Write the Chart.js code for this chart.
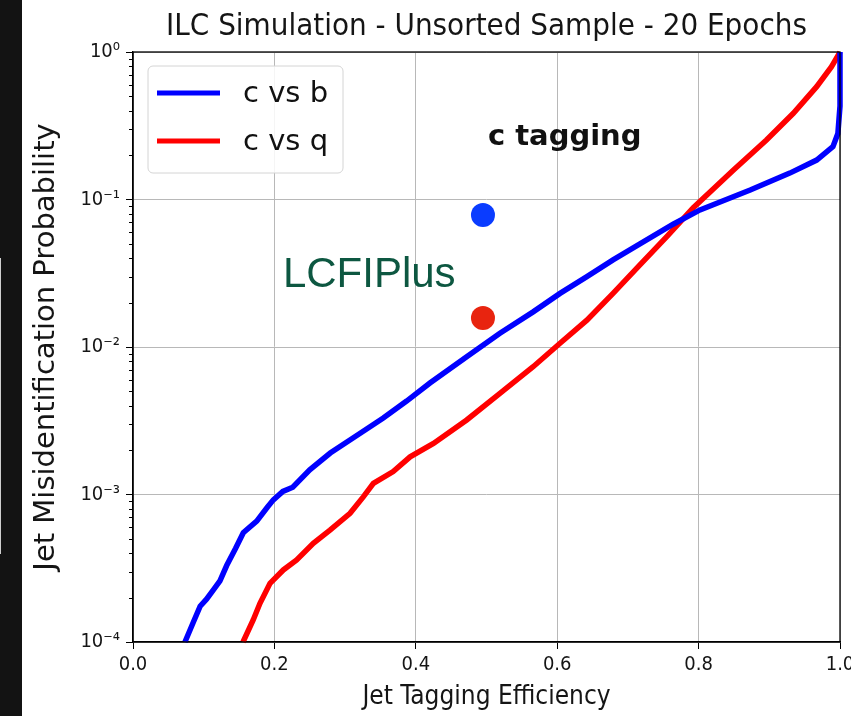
<!DOCTYPE html>
<html lang="en">
<head>
<meta charset="UTF-8">
<title>c tagging - ILC Simulation</title>
<script src="https://cdn.jsdelivr.net/npm/chart.js"></script>
<style>
  html, body { margin: 0; padding: 0; background: #fff; }
  #wrap { position: relative; width: 851px; height: 716px; overflow: hidden; }
  #roc { position: absolute; left: 0; top: 0; }
  #strip { position: absolute; left: 0; top: 0; width: 22px; height: 716px; background: #131313; }
  #stripLine { position: absolute; left: 0; top: 258px; width: 1px; height: 296px; background: #cfcfcf; }
</style>
</head>
<body>
<div id="wrap">
  <canvas id="roc" width="880" height="716"></canvas>
  <div id="strip"></div>
  <div id="stripLine"></div>
</div>
<script>
// c vs b (blue) : efficiency / mis-id probability
var cvbEff = [0.0735, 0.085, 0.095, 0.104, 0.115, 0.123, 0.1325, 0.145, 0.156, 0.175, 0.19, 0.1985, 0.212, 0.226, 0.25, 0.279, 0.316, 0.354, 0.387, 0.42, 0.472, 0.519, 0.566, 0.604, 0.642, 0.679, 0.717, 0.764, 0.802, 0.873, 0.929, 0.967, 0.99, 0.997, 1.0, 1.0];
var cvbMis = [1.0e-4, 1.35e-4, 1.75e-4, 1.95e-4, 2.3e-4, 2.6e-4, 3.3e-4, 4.3e-4, 5.5e-4, 6.6e-4, 8.2e-4, 9.2e-4, 1.05e-3, 1.12e-3, 1.47e-3, 1.91e-3, 2.5e-3, 3.3e-3, 4.3e-3, 5.7e-3, 8.6e-3, 1.24e-2, 1.73e-2, 2.31e-2, 3.0e-2, 3.9e-2, 5.0e-2, 6.8e-2, 8.5e-2, 0.116, 0.151, 0.185, 0.228, 0.28, 0.43, 1.0];

// c vs q (red)
var cvqEff = [0.1556, 0.170, 0.1796, 0.1938, 0.2126, 0.2315, 0.255, 0.2786, 0.307, 0.326, 0.340, 0.368, 0.392, 0.425, 0.472, 0.519, 0.566, 0.604, 0.642, 0.679, 0.717, 0.755, 0.7925, 0.849, 0.896, 0.934, 0.967, 0.988, 1.0];
var cvqMis = [1.0e-4, 1.41e-4, 1.83e-4, 2.5e-4, 3.08e-4, 3.6e-4, 4.67e-4, 5.74e-4, 7.46e-4, 9.67e-4, 1.19e-3, 1.43e-3, 1.8e-3, 2.22e-3, 3.2e-3, 4.85e-3, 7.35e-3, 1.06e-2, 1.52e-2, 2.31e-2, 3.6e-2, 5.6e-2, 8.8e-2, 0.158, 0.253, 0.384, 0.582, 0.795, 1.0];

// LCFIPlus reference points
var lcfiEff = [0.495, 0.495];
var lcfiMis = [0.0785, 0.0157];

var seriesLabels = ['c vs b', 'c vs q'];
var xTickValues = [0, 0.2, 0.4, 0.6, 0.8, 1.0];
var xTickLabels = ['0.0', '0.2', '0.4', '0.6', '0.8', '1.0'];
var yTickValues = [1e-4, 1e-3, 1e-2, 1e-1, 1];
var yTickLabels = ['10\u207B\u2074', '10\u207B\u00B3', '10\u207B\u00B2', '10\u207B\u00B9', '10\u2070'];

var titleText = 'ILC Simulation - Unsorted Sample - 20 Epochs';
var condensed = "'DejaVu Sans Condensed', 'DejaVu Sans', sans-serif";
var textColor = '#151515';

function toPoints(xs, ys) {
    var pts = [];
    for (var i = 0; i < xs.length; i++) pts.push({ x: xs[i], y: ys[i] });
    return pts;
}

// title, frame, minor ticks, legend and the two text notes
var decorPlugin = {
    id: 'decor',
    afterDraw: function(chart) {
        var ctx = chart.ctx, a = chart.chartArea;
        var xs = chart.scales.x, ys = chart.scales.y;
        ctx.save();

        // minor log ticks on the y axis
        ctx.strokeStyle = '#000';
        ctx.lineWidth = 1;
        for (var k = -4; k < 0; k++) {
            for (var m = 2; m < 10; m++) {
                var py = Math.round(ys.getPixelForValue(m * Math.pow(10, k))) + 0.5;
                ctx.beginPath();
                ctx.moveTo(a.left - 4, py);
                ctx.lineTo(a.left, py);
                ctx.stroke();
            }
        }

        // axes box
        ctx.lineWidth = 1.3;
        ctx.strokeRect(a.left, a.top, a.right - a.left, a.bottom - a.top);

        // title
        ctx.fillStyle = textColor;
        ctx.font = "31px " + condensed;
        ctx.textAlign = 'center';
        ctx.textBaseline = 'alphabetic';
        ctx.fillText(titleText, (a.left + a.right) / 2, 35);

        // "c tagging"
        ctx.textAlign = 'left';
        ctx.font = "bold 29px 'DejaVu Sans', sans-serif";
        ctx.fillStyle = '#111';
        ctx.fillText('c tagging', xs.getPixelForValue(0.502), ys.getPixelForValue(0.234));

        // "LCFIPlus"
        ctx.font = "42px 'Liberation Sans', Arial, sans-serif";
        ctx.fillStyle = '#0d5741';
        ctx.fillText('LCFIPlus', xs.getPixelForValue(0.212), ys.getPixelForValue(0.0255));

        // legend box
        var lx = a.left + 15, ly = a.top + 14, lw = 195, lh = 107;
        ctx.beginPath();
        ctx.roundRect(lx, ly, lw, lh, 5);
        ctx.fillStyle = 'rgba(255,255,255,0.85)';
        ctx.fill();
        ctx.strokeStyle = '#d4d4d4';
        ctx.lineWidth = 1;
        ctx.stroke();

        ctx.font = "29px 'DejaVu Sans', sans-serif";
        ctx.textBaseline = 'middle';
        for (var i = 0; i < seriesLabels.length; i++) {
            var ds = chart.data.datasets[i];
            var rowY = ly + 27 + i * 48;
            ctx.strokeStyle = ds.borderColor;
            ctx.lineWidth = 5;
            ctx.beginPath();
            ctx.moveTo(lx + 9, rowY);
            ctx.lineTo(lx + 72, rowY);
            ctx.stroke();
            ctx.fillStyle = '#111';
            ctx.fillText(ds.label, lx + 95, rowY + 1);
        }
        ctx.restore();
    }
};

var ctx = document.getElementById('roc').getContext('2d');
var rocChart = new Chart(ctx, {
    type: 'line',
    data: {
        datasets: [{
            label: seriesLabels[0],
            data: toPoints(cvbEff, cvbMis),
            borderColor: '#0000ff',
            borderWidth: 5.5,
            pointRadius: 0,
            fill: false,
            tension: 0,
            clip: 6
        }, {
            label: seriesLabels[1],
            data: toPoints(cvqEff, cvqMis),
            borderColor: '#ff0000',
            borderWidth: 5.5,
            pointRadius: 0,
            fill: false,
            tension: 0,
            clip: 6
        }, {
            type: 'scatter',
            label: 'LCFIPlus',
            data: toPoints(lcfiEff, lcfiMis),
            showLine: false,
            pointRadius: 12,
            pointBorderWidth: 0,
            pointBackgroundColor: ['#0a3cff', '#e8240f'],
            pointBorderColor: ['#0a3cff', '#e8240f']
        }]
    },
    options: {
        responsive: false,
        animation: false,
        layout: { padding: { left: 0, right: 40, top: 52, bottom: 0 } },
        plugins: {
            legend: { display: false },
            tooltip: { enabled: false }
        },
        scales: {
            x: {
                type: 'linear',
                min: 0,
                max: 1,
                afterBuildTicks: function(scale) {
                    scale.ticks = xTickValues.map(function(v) { return { value: v }; });
                },
                afterFit: function(scale) { scale.height = 74; },
                ticks: {
                    color: textColor,
                    padding: 4,
                    maxRotation: 0,
                    font: { family: condensed, size: 20 },
                    callback: function(v, i) { return xTickLabels[i]; }
                },
                grid: { color: '#b8b8b8', lineWidth: 1, tickColor: '#000', tickLength: 7 },
                border: { color: '#000', width: 1.3 },
                title: {
                    display: true,
                    text: 'Jet Tagging Efficiency',
                    color: textColor,
                    font: { family: condensed, size: 26 },
                    padding: { top: 0, bottom: 3 }
                }
            },
            y: {
                type: 'logarithmic',
                min: 1e-4,
                max: 1,
                afterBuildTicks: function(scale) {
                    scale.ticks = yTickValues.map(function(v) { return { value: v }; });
                },
                afterFit: function(scale) { scale.width = 133; },
                ticks: {
                    color: textColor,
                    padding: 6,
                    font: { family: condensed, size: 20 },
                    callback: function(v, i) { return yTickLabels[i]; }
                },
                grid: { color: '#b8b8b8', lineWidth: 1, tickColor: '#000', tickLength: 7 },
                border: { color: '#000', width: 1.3 },
                title: {
                    display: true,
                    text: 'Jet Misidentification Probability',
                    color: textColor,
                    font: { family: "'DejaVu Sans', sans-serif", size: 29 },
                    padding: { top: 29, bottom: 0 }
                }
            }
        }
    },
    plugins: [decorPlugin]
});
</script>
</body>
</html>
